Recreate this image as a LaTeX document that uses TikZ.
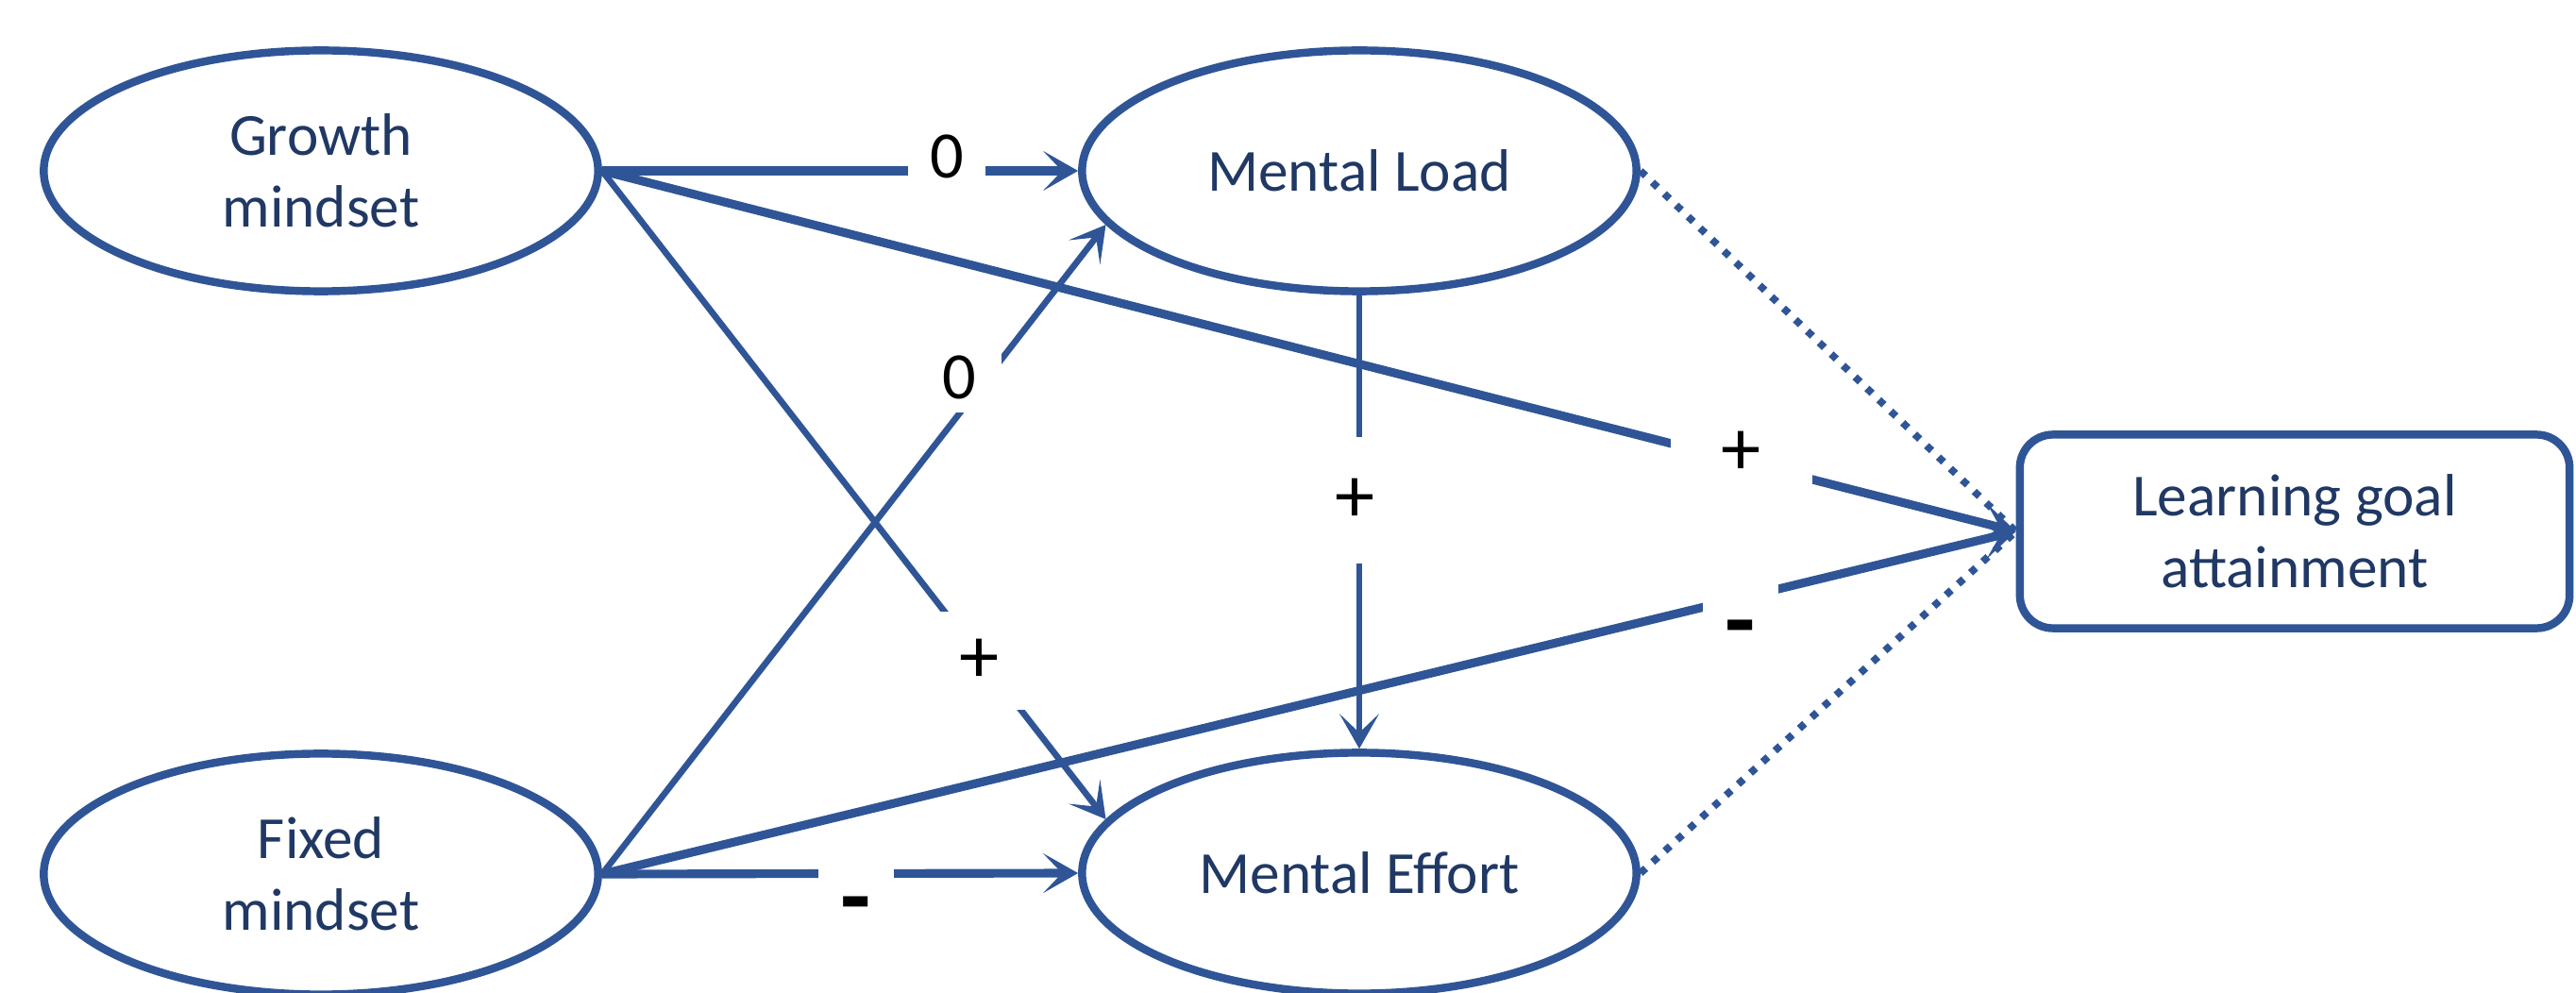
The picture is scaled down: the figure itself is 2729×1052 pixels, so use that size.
\documentclass[tikz,border=0pt]{standalone}
\usepackage{fontspec}
\setmainfont{Carlito}
\usetikzlibrary{arrows.meta,shapes.geometric}
\definecolor{lineblue}{HTML}{2F5597}
\definecolor{textblue}{HTML}{203864}
\begin{document}
\begin{tikzpicture}[x=0.01cm,y=-0.01cm,
  latent/.style={ellipse, draw=lineblue, line width=2.4pt, minimum width=5.87cm,
    minimum height=2.55cm, inner sep=0pt, text=textblue,
    font=\fontsize{18}{21.6}\selectfont, align=center},
  outcome/.style={rectangle, rounded corners=0.35cm, draw=lineblue, line width=2.4pt,
    minimum width=5.82cm, minimum height=2.05cm, inner sep=0pt, text=textblue,
    font=\fontsize{18}{21.6}\selectfont, align=center},
  tipped/.style={-{Stealth[length=0.37cm,width=0.42cm,inset=0.2cm]}},
  thickpath/.style={draw=lineblue, line width=2.6pt},
  thinpath/.style={draw=lineblue, line width=1.9pt},
  dotpath/.style={draw=lineblue, line width=2.2pt, dash pattern=on 0.075cm off 0.1cm},
  sign/.style={fill=white, inner sep=0pt, text=black, font=\fontsize{20}{24}\selectfont},
  plus/.style={sign, font=\fontsize{24}{28}\selectfont},
  minus/.style={sign, font=\fontsize{30}{32}\selectfont\bfseries},
]
\useasboundingbox[fill=white] (0,0) rectangle (2729,1052);

\node[latent] (gm) at (340,181) {Growth\\mindset};
\node[latent] (fm) at (340,926) {Fixed\\mindset};
\node[latent] (ml) at (1440,181) {Mental Load};
\node[latent] (me) at (1440,925) {Mental Effort};
\node[outcome] (lg) at (2431,563) {Learning goal\\attainment};

% connectors
\draw[dotpath] (ml.east) -- (lg.west);
\draw[dotpath] (me.east) -- (lg.west);
\draw[thickpath, tipped] (gm.east) -- (ml.west);
\draw[thickpath, tipped] (gm.east) -- (lg.west);
\draw[thinpath, tipped] (gm.east) -- (me.168);
\draw[thinpath, tipped] (fm.east) -- (ml.192);
\draw[thickpath, tipped] (fm.east) -- (me.west);
\draw[thickpath, tipped] (fm.east) -- (lg.west);
\draw[thinpath, tipped] (ml.south) -- (me.north);

% signs
\node[sign, minimum width=0.82cm, minimum height=0.5cm] (s1) at (1003,166) {0};
\node[plus, minimum width=1.5cm, minimum height=0.76cm] (s2) at (1845,480) {+};
\node[plus, minimum width=1.0cm, minimum height=1.04cm] (s3) at (1038,700) {+};
\node[sign, minimum width=0.9cm, minimum height=0.74cm] (s4) at (1016,400) {0};
\node[plus, minimum width=0.55cm, minimum height=1.34cm] (s5) at (1436,530) {+};
\node[minus, minimum width=0.8cm, minimum height=1.22cm] (s6) at (1844,675) {-};
\node[minus, minimum width=0.8cm, minimum height=1.0cm] (s7) at (907,968) {-};
\end{tikzpicture}
\end{document}
